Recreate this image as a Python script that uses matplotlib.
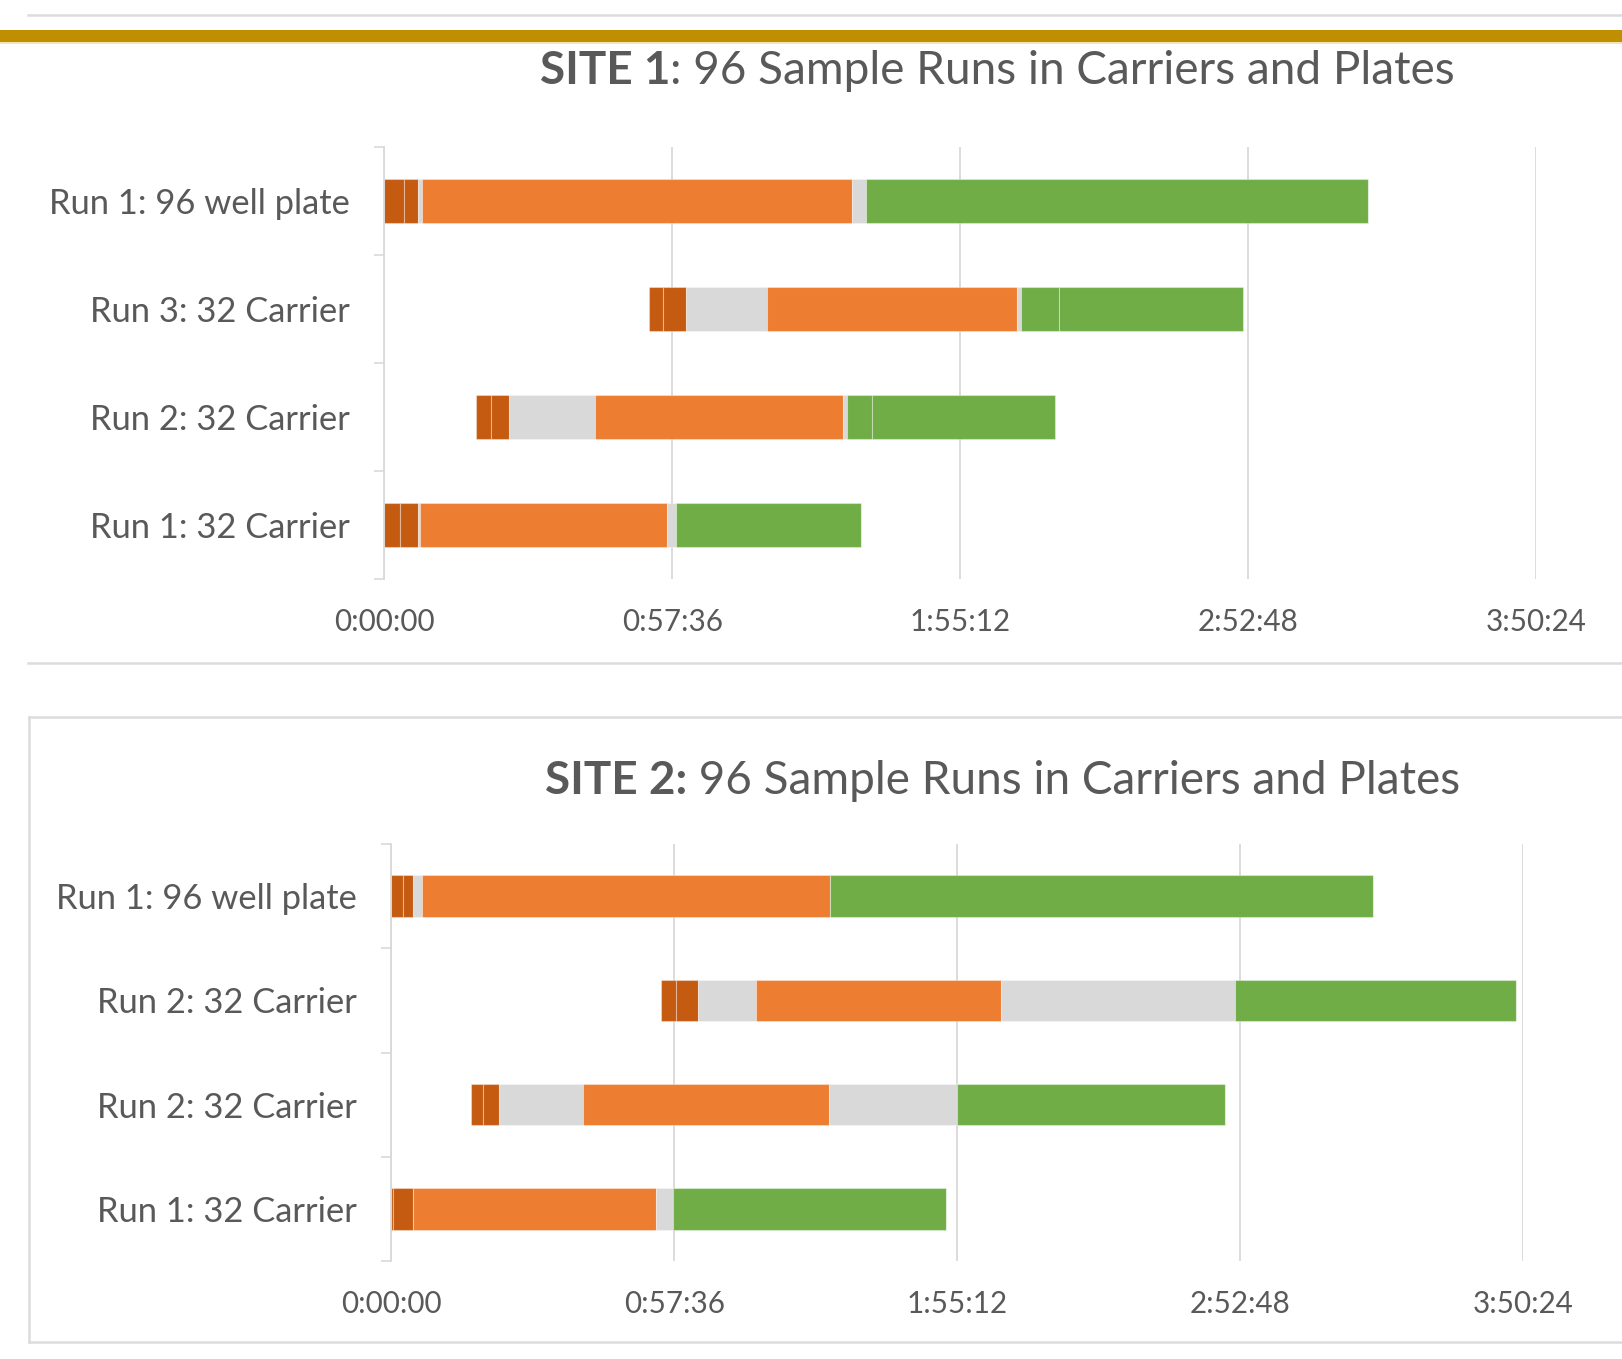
import matplotlib.pyplot as plt
from matplotlib.lines import Line2D
from matplotlib.patches import Rectangle
from matplotlib.ticker import FuncFormatter, FixedLocator

plt.rcParams['font.family'] = ['Lato', 'DejaVu Sans']

W, H = 1622, 1359

# durations in minutes, rows listed bottom to top
site1_runs = ["Run 1: 32 Carrier", "Run 2: 32 Carrier", "Run 3: 32 Carrier", "Run 1: 96 well plate"]
site1_start = [0, 18.3, 52.9, 0]
site1_setup_a = [3.1, 3.0, 2.9, 4.0]
site1_setup_b = [3.6, 3.6, 4.5, 2.7]
site1_wait_a = [0.5, 17.3, 16.3, 0.9]
site1_extract = [49.3, 49.5, 50.0, 85.9]
site1_wait_b = [1.9, 0.9, 0.8, 2.8]
site1_pcr_a = [36.9, 4.9, 7.6, 100.4]
site1_pcr_b = [0, 36.6, 36.8, 0]

site2_runs = ["Run 1: 32 Carrier", "Run 2: 32 Carrier", "Run 2: 32 Carrier", "Run 1: 96 well plate"]
site2_start = [0, 16.3, 54.9, 0]
site2_setup_a = [0.4, 2.3, 3.1, 2.4]
site2_setup_b = [4.1, 3.4, 4.4, 2.0]
site2_wait_a = [0, 17.1, 11.9, 1.8]
site2_extract = [49.4, 50.0, 49.9, 83.2]
site2_wait_b = [3.4, 26.1, 47.5, 0]
site2_pcr_a = [55.6, 54.6, 57.4, 110.5]
site2_pcr_b = [0, 0, 0, 0]

time_ticks = [0, 57.6, 115.2, 172.8, 230.4]

DARK = '#C55A11'
ORANGE = '#ED7D31'
GRAY = '#D9D9D9'
GREEN = '#70AD47'
TEXT = '#595959'
seg_colors = [DARK, DARK, GRAY, ORANGE, GRAY, GREEN, GREEN]


def hms(m, pos=None):
    s = int(round(m * 60))
    return f"{s // 3600}:{(s % 3600) // 60:02d}:{s % 60:02d}"


def draw_site(ax, runs, start, segments):
    y = list(range(len(runs)))
    left = list(start)
    for vals, col in zip(segments, seg_colors):
        ax.barh(y, vals, left=left, height=0.4, color=col,
                edgecolor=(1, 1, 1, 0.35), linewidth=0.8, zorder=3)
        left = [l + v for l, v in zip(left, vals)]
    ax.set_xlim(0, 230.4)
    ax.set_ylim(-0.5, len(runs) - 0.5)
    ax.set_yticks(y)
    ax.set_yticklabels(runs)
    ax.yaxis.set_minor_locator(FixedLocator([i - 0.5 for i in range(len(runs) + 1)]))
    ax.tick_params(axis='y', which='major', length=0, pad=25, labelsize=24.8, labelcolor=TEXT)
    ax.tick_params(axis='y', which='minor', length=7, width=1.2, color=GRAY)
    ax.set_xticks(time_ticks)
    ax.xaxis.set_major_formatter(FuncFormatter(hms))
    ax.tick_params(axis='x', length=0, pad=21, labelsize=21.3, labelcolor=TEXT)
    ax.grid(axis='x', color=GRAY, linewidth=1.3, zorder=0)
    ax.set_axisbelow(True)
    for s in ['top', 'right', 'bottom']:
        ax.spines[s].set_visible(False)
    ax.spines['left'].set_color(GRAY)
    ax.spines['left'].set_linewidth(1.3)
    ax.spines['left'].set_zorder(4)


def px(x, y):
    return x / W, 1 - y / H


def title(fig, x, y, bold, rest):
    t = fig.text(*px(x, y), bold, fontsize=33, fontweight='bold', color=TEXT,
                 ha='left', va='center')
    fig.axes[0].annotate(rest, xy=(1, 0), xycoords=t, fontsize=33, color=TEXT,
                         ha='left', va='bottom', annotation_clip=False)


fig = plt.figure(figsize=(W / 100, H / 100), dpi=100)

ax1 = fig.add_axes([384.3 / W, 1 - 579 / H, 1151.7 / W, 432 / H])
draw_site(ax1, site1_runs, site1_start,
          [site1_setup_a, site1_setup_b, site1_wait_a, site1_extract,
           site1_wait_b, site1_pcr_a, site1_pcr_b])

ax2 = fig.add_axes([391.3 / W, 1 - 1261 / H, 1131.5 / W, 417 / H])
draw_site(ax2, site2_runs, site2_start,
          [site2_setup_a, site2_setup_b, site2_wait_a, site2_extract,
           site2_wait_b, site2_pcr_a, site2_pcr_b])

title(fig, 540, 71, "SITE 1", ": 96 Sample Runs in Carriers and Plates")
title(fig, 545, 781, "SITE 2:", " 96 Sample Runs in Carriers and Plates")

# page decorations: rules, gold band and the frame round the second chart
lw = 2.5 * 72 / 100
for (x0, y0), (x1, y1) in [((28, 15), (W, 15)), ((28, 663), (W, 663)),
                           ((29, 717), (W, 717)), ((29, 717), (29, 1342)),
                           ((29, 1342), (W, 1342))]:
    fig.add_artist(Line2D([x0 / W, x1 / W], [1 - y0 / H, 1 - y1 / H],
                          transform=fig.transFigure, color='#DCDCDC', linewidth=lw))
fig.add_artist(Rectangle(px(0, 42), 1, 12 / H, transform=fig.transFigure,
                         color='#BF8F00', linewidth=0))
fig.add_artist(Rectangle(px(0, 43.5), 1, 1.5 / H, transform=fig.transFigure,
                         color='#F2E4B5', linewidth=0))

fig.savefig('out.png', dpi=100)
